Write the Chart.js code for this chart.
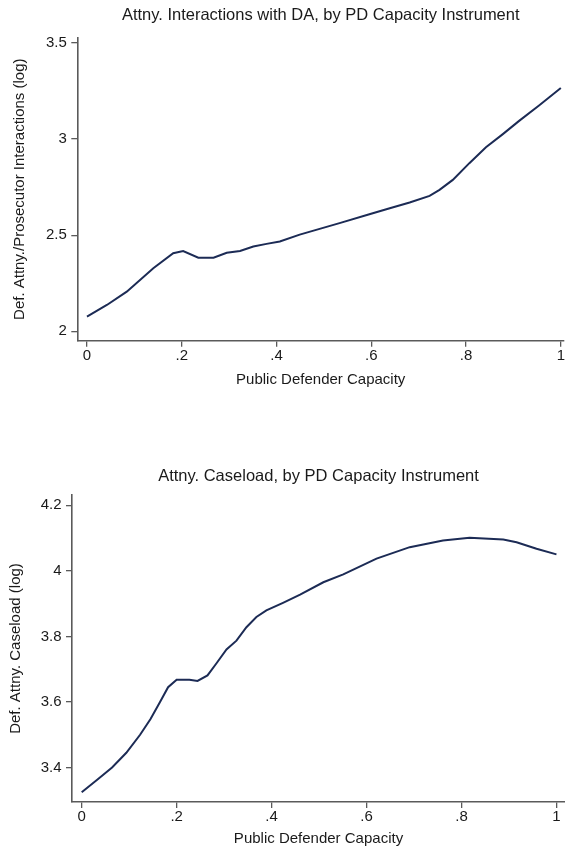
<!DOCTYPE html>
<html>
<head>
<meta charset="utf-8">
<script src="https://cdn.jsdelivr.net/npm/chart.js@4"></script>
<style>
  html, body { margin: 0; padding: 0; background: #ffffff; }
  body { width: 565px; height: 852px; position: relative; overflow: hidden; }
  .box { position: absolute; left: 0; width: 565px; }
  #b1 { top: 0; height: 400px; }
  #b2 { top: 400px; height: 452px; }
</style>
</head>
<body>
<div class="box" id="b1"><canvas id="c1" width="565" height="400"></canvas></div>
<div class="box" id="b2"><canvas id="c2" width="565" height="452"></canvas></div>
<script>
// ---- Data ----
const capacity1 = [0, 0.042, 0.084, 0.140, 0.182, 0.203, 0.235, 0.267, 0.295, 0.323, 0.351, 0.379, 0.407, 0.449, 0.491, 0.533, 0.596, 0.639, 0.681, 0.723, 0.744, 0.772, 0.807, 0.842, 0.877, 0.912, 0.954, 1.0];
const interactions = [2.076, 2.137, 2.206, 2.328, 2.406, 2.418, 2.383, 2.383, 2.409, 2.418, 2.441, 2.455, 2.467, 2.503, 2.533, 2.563, 2.609, 2.640, 2.670, 2.705, 2.736, 2.788, 2.875, 2.958, 3.025, 3.095, 3.175, 3.266];

const capacity2 = [0, 0.032, 0.064, 0.094, 0.123, 0.145, 0.165, 0.182, 0.200, 0.227, 0.244, 0.265, 0.284, 0.305, 0.326, 0.347, 0.368, 0.389, 0.424, 0.460, 0.509, 0.551, 0.621, 0.691, 0.761, 0.817, 0.888, 0.916, 0.958, 1.0];
const caseload = [3.325, 3.362, 3.400, 3.445, 3.500, 3.548, 3.600, 3.645, 3.668, 3.668, 3.664, 3.681, 3.718, 3.760, 3.787, 3.828, 3.859, 3.879, 3.902, 3.927, 3.965, 3.989, 4.037, 4.072, 4.092, 4.101, 4.095, 4.087, 4.067, 4.050];

const xTickValues = [0, 0.2, 0.4, 0.6, 0.8, 1];
const xTickLabels = ["0", ".2", ".4", ".6", ".8", "1"];
const yTicks1 = [2, 2.5, 3, 3.5];
const yTickLabels1 = ["2", "2.5", "3", "3.5"];
const yTicks2 = [3.4, 3.6, 3.8, 4, 4.2];
const yTickLabels2 = ["3.4", "3.6", "3.8", "4", "4.2"];

const title1 = "Attny. Interactions with DA, by PD Capacity Instrument";
const title2 = "Attny. Caseload, by PD Capacity Instrument";
const yTitle1 = "Def. Attny./Prosecutor Interactions (log)";
const yTitle2 = "Def. Attny. Caseload (log)";
const xTitle = "Public Defender Capacity";

// ---- Styling ----
const FONT = "'Liberation Sans', Arial, Helvetica, sans-serif";
const TEXT = '#1a1a1a';
const AXIS = '#5a5a5a';
const LINE = '#1c2b55';

function makeChart(canvasId, xs, ys, cfg) {
  const pts = xs.map((x, i) => ({ x: x, y: ys[i] }));
  return new Chart(document.getElementById(canvasId), {
    type: 'scatter',
    data: {
      datasets: [{
        data: pts,
        showLine: true,
        borderColor: LINE,
        backgroundColor: LINE,
        borderWidth: 2,
        pointRadius: 0,
        tension: 0
      }]
    },
    options: {
      responsive: false,
      animation: false,
      devicePixelRatio: 1,
      layout: { padding: 0, autoPadding: false },
      plugins: {
        legend: { display: false },
        tooltip: { enabled: false },
        title: {
          display: true,
          fullSize: false,
          text: cfg.title,
          color: TEXT,
          font: { family: FONT, size: 16.5, weight: 'normal', lineHeight: 1.2 },
          padding: { top: cfg.titlePadTop, bottom: cfg.titlePadBottom }
        }
      },
      scales: {
        x: {
          type: 'linear',
          position: 'bottom',
          min: cfg.xMin,
          max: cfg.xMax,
          afterBuildTicks: (s) => { s.ticks = xTickValues.map(v => ({ value: v })); },
          afterFit: (s) => { s.height = cfg.xHeight; },
          ticks: {
            color: TEXT,
            padding: 0,
            maxRotation: 0,
            autoSkip: false,
            font: { family: FONT, size: 15, lineHeight: 1.2 },
            callback: (v) => { const i = xTickValues.indexOf(v); return i >= 0 ? xTickLabels[i] : ''; }
          },
          grid: { display: true, drawOnChartArea: false, drawTicks: true, tickLength: 6, color: AXIS, lineWidth: 1.3 },
          border: { display: true, color: AXIS, width: 1.6 },
          title: {
            display: true,
            text: xTitle,
            color: TEXT,
            font: { family: FONT, size: 15, lineHeight: 1.2 },
            padding: { top: 0, bottom: cfg.xTitlePadBottom }
          }
        },
        y: {
          type: 'linear',
          position: 'left',
          min: cfg.yMin,
          max: cfg.yMax,
          afterBuildTicks: (s) => { s.ticks = cfg.yTicks.map(v => ({ value: v })); },
          afterFit: (s) => { s.width = cfg.yWidth; },
          ticks: {
            color: TEXT,
            padding: 4.5,
            autoSkip: false,
            font: { family: FONT, size: 15, lineHeight: 1.2 },
            callback: (v) => { const i = cfg.yTicks.indexOf(v); return i >= 0 ? cfg.yLabels[i] : ''; }
          },
          grid: { display: true, drawOnChartArea: false, drawTicks: true, tickLength: 6, color: AXIS, lineWidth: 1.3 },
          border: { display: true, color: AXIS, width: 1.6 },
          title: {
            display: true,
            text: cfg.yTitle,
            color: TEXT,
            font: { family: FONT, size: 15, lineHeight: 1.2 },
            padding: { top: cfg.yTitlePadTop, bottom: 0 }
          }
        }
      }
    }
  });
}

makeChart('c1', capacity1, interactions, {
  title: title1, titlePadTop: 6, titlePadBottom: 11.9,
  xMin: -0.0204, xMax: 1.007, xHeight: 59.3, xTitlePadBottom: 11,
  yMin: 1.951, yMax: 3.528, yWidth: 77.3, yTicks: yTicks1, yLabels: yTickLabels1,
  yTitle: yTitle1, yTitlePadTop: 11
});

makeChart('c2', capacity2, caseload, {
  title: title2, titlePadTop: 66.5, titlePadBottom: 8.7,
  xMin: -0.0204, xMax: 1.018, xHeight: 50, xTitlePadBottom: 4,
  yMin: 3.295, yMax: 4.231, yWidth: 72, yTicks: yTicks2, yLabels: yTickLabels2,
  yTitle: yTitle2, yTitlePadTop: 7
});
</script>
</body>
</html>
